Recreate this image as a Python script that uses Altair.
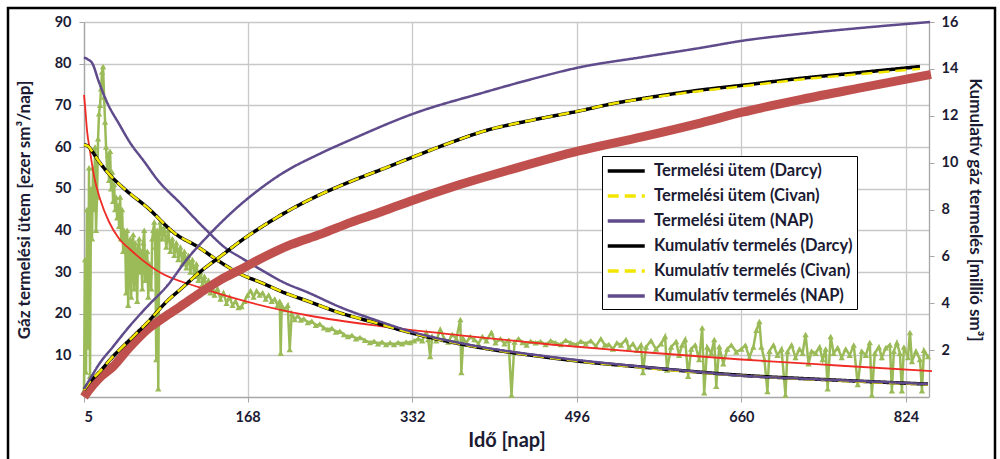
import altair as alt
import pandas as pd

# ---- model curves: production rate [thousand sm3/day] ----
rate_day = [5, 9, 13, 20, 30, 45, 68, 97, 118, 140, 161, 181, 205, 228, 260, 294,
            334, 394, 461, 498, 560, 661, 750, 846]
rate_darcy = [60.5, 60.2, 59.0, 56.5, 53.5, 50.0, 45.5, 39.0, 36.1, 32.5, 29.5, 27.5,
              25.0, 23.0, 20.2, 17.9, 15.2, 12.1, 9.7, 8.6, 7.2, 5.2, 4.1, 3.1]
rate_civan = [60.5, 60.2, 59.0, 56.5, 53.5, 50.0, 45.5, 39.0, 36.1, 32.5, 29.5, 27.5,
              25.0, 23.0, 20.2, 17.9, 15.2, 12.1, 9.7, 8.6, 7.1, 5.1, 4.0, 3.0]

nap_rate_day = [5, 9, 13, 20, 28, 40, 51, 65, 78, 101, 125, 148, 161, 181, 204, 228,
                261, 294, 334, 394, 461, 530, 600, 661, 730, 800, 846]
nap_rate = [81.5, 81.0, 80.2, 75.5, 70.7, 65.5, 61.0, 56.5, 52.2, 46.5, 40.5, 35.4,
            33.5, 30.6, 27.5, 25.1, 21.5, 18.6, 15.5, 12.3, 9.9, 8.0, 6.4, 5.1, 4.3, 3.6, 3.1]

# fitted decline of the measured rate
fit_day = [5, 6, 8, 11, 15, 21, 30, 40, 51, 80, 120, 170, 230, 300, 380, 470, 560, 660, 760, 850]
fit_rate = [72.5, 70.0, 64.0, 59.0, 53.0, 47.5, 42.0, 38.0, 35.4, 30.0, 26.3, 22.7,
            19.5, 17.0, 14.8, 12.6, 10.8, 9.0, 7.5, 6.2]

# ---- cumulative production [million sm3] ----
cum_day = [5, 10, 20, 34, 54, 68, 88, 101, 121, 141, 161, 181, 211, 241, 271, 304, 334,
           370, 404, 450, 498, 530, 571, 620, 661, 720, 780, 838]
cum_darcy = [0.3, 0.6, 1.05, 1.73, 2.58, 3.17, 4.1, 4.59, 5.35, 6.0, 6.65, 7.23, 8.0,
             8.65, 9.2, 9.75, 10.26, 10.85, 11.35, 11.8, 12.2, 12.5, 12.8, 13.1, 13.3,
             13.6, 13.85, 14.1]
cum_civan = [0.3, 0.6, 1.05, 1.73, 2.58, 3.17, 4.1, 4.59, 5.35, 6.0, 6.65, 7.23, 8.0,
             8.65, 9.2, 9.75, 10.26, 10.85, 11.35, 11.8, 12.2, 12.5, 12.78, 13.06, 13.25,
             13.55, 13.78, 14.0]

nap_cum_day = [5, 10, 20, 34, 50, 68, 88, 108, 128, 158, 181, 201, 241, 271, 334, 404,
               450, 498, 561, 620, 661, 720, 780, 848]
nap_cum = [0.35, 0.7, 1.4, 2.15, 3.0, 3.86, 4.75, 5.9, 6.85, 8.1, 8.9, 9.5, 10.4, 10.98,
           12.1, 13.0, 13.55, 14.06, 14.5, 14.9, 15.2, 15.5, 15.75, 16.0]

meas_cum_day = [5, 10, 20, 34, 50, 68, 85, 101, 121, 141, 161, 181, 211, 241, 271, 291,
                330, 375, 430, 498, 561, 620, 661, 720, 780, 849]
meas_cum = [0.0, 0.3, 0.8, 1.3, 2.1, 2.88, 3.4, 3.86, 4.45, 5.0, 5.44, 5.9, 6.5, 6.95,
            7.45, 7.75, 8.35, 9.0, 9.7, 10.5, 11.1, 11.7, 12.15, 12.7, 13.2, 13.76]

# ---- measured daily gas rate (day, rate) ----
measured = [
    (5, 1.5), (6, 33), (7, 6), (8, 45), (9, 12), (10, 55), (11, 5), (12, 50), (13, 38),
    (14, 55), (15, 45), (16, 60), (17, 40), (18, 48), (19, 62), (20, 68), (21, 70),
    (22, 74), (23, 78), (24, 79.3), (25, 72), (26, 66), (27, 60), (28, 55), (29, 58),
    (30, 52), (31, 59), (32, 50), (33, 54), (34, 47), (35, 51), (36, 45), (37, 48),
    (38, 43), (39, 46), (40, 41), (41, 48), (42, 38), (43, 45), (44, 35), (45, 40),
    (46, 38), (47, 25), (48, 40), (49, 22), (50, 36), (51, 38), (52, 24), (53, 35),
    (54, 39), (55, 26), (56, 37), (57, 33), (58, 23), (59, 36), (60, 38), (61, 30),
    (62, 35), (63, 26), (64, 37), (65, 40), (66, 28), (67, 33), (68, 35), (69, 24),
    (70, 32), (71, 30), (72, 26), (73, 38), (74, 40), (75, 42), (76, 36), (77, 9),
    (78, 40), (79, 2), (80, 38), (81, 42), (83, 38), (85, 41), (87, 36), (89, 40),
    (91, 35), (93, 38), (95, 34), (97, 37), (99, 33), (101, 36), (103, 32), (105, 35),
    (107, 31), (109, 34), (111, 30), (113, 33), (115, 29), (117, 32), (119, 28),
    (121, 30), (123, 27), (125, 29), (127, 26), (129, 28), (131, 25), (133, 27),
    (135, 24.5), (138, 26), (141, 23.5), (144, 25), (147, 22.5), (150, 24), (153, 22),
    (156, 23), (159, 21.5), (162, 21.7), (165, 23), (168, 24.5), (171, 25.5), (174, 24),
    (177, 25.5), (180, 24.5), (183, 25), (186, 23.5), (189, 24.5), (192, 23), (195, 23.5),
    (198, 22), (200, 23), (201, 10.5), (202, 22), (205, 21), (208, 22), (210, 11.4),
    (212, 20), (215, 18.6), (218, 19.5), (221, 18.5), (224, 18.8), (228, 17.9),
    (232, 18.2), (236, 17.2), (240, 17.5), (244, 16.6), (248, 16.2), (252, 16.5),
    (256, 15.6), (260, 15.8), (264, 15), (268, 14.5), (272, 14.8), (276, 14), (280, 14.3),
    (285, 13.6), (290, 13.1), (294, 13.4), (298, 12.8), (302, 13.2), (306, 12.6), (310, 13),
    (314, 12.6), (318, 13.1), (322, 12.8), (326, 13.2), (330, 13.1), (334, 13.5),
    (338, 14), (342, 13.5), (346, 15.5), (348, 13.8), (350, 9.7), (352, 14.5), (356, 13.5),
    (360, 16.2), (364, 14), (368, 13.2), (372, 15), (376, 14), (380, 18.6), (381, 5.9),
    (383, 14), (386, 13), (390, 14.5), (394, 13.8), (398, 12.8), (402, 14.5), (406, 13.5),
    (411, 15.5), (415, 13), (420, 14), (424, 12.8), (428, 13.6), (431, 0.5), (434, 13.2),
    (438, 14), (442, 13.1), (446, 12.5), (450, 13.4), (455, 13), (460, 13.3), (465, 12.6),
    (470, 13.5), (475, 13), (480, 12.6), (485, 13.6), (490, 13), (496, 12.6), (500, 13.4),
    (505, 12.8), (510, 13.5), (515, 12.2), (520, 14), (524, 12.5), (528, 12.6), (532, 11.5),
    (536, 13), (540, 12.5), (545, 13.8), (548, 11.8), (552, 12.8), (556, 11.2), (560, 12.5),
    (562, 5.9), (565, 12), (570, 13.5), (575, 11.5), (580, 12.8), (584, 14.5), (586, 6.5),
    (590, 12), (595, 13.3), (598, 10), (601, 12.5), (604, 13.8), (607, 5), (610, 11.5),
    (614, 12.5), (618, 9), (621, 16.6), (623, 1), (626, 12), (630, 10.5), (633, 13.8),
    (635, 2.6), (638, 12.1), (642, 8), (646, 11.5), (650, 12.5), (655, 10.8), (660, 11.5),
    (664, 12.4), (668, 9.5), (672, 12), (675, 16), (678, 18.1), (680, 12), (683, 9),
    (686, 1.3), (688, 11), (692, 12.5), (696, 10), (700, 11.5), (704, 0.5), (706, 10.9),
    (710, 12.5), (714, 9.5), (718, 11.5), (721, 10.5), (724, 15), (727, 8), (730, 11),
    (734, 10.5), (738, 12), (741, 9), (744, 11.5), (746, 2), (749, 14.5), (752, 10.5),
    (756, 11.8), (760, 9.5), (764, 11.5), (768, 10), (772, 12.5), (776, 3), (780, 11),
    (784, 10), (788, 13.1), (790, 0.5), (793, 10.5), (797, 12), (800, 9.5), (804, 11.8),
    (808, 12.5), (810, 1.5), (812, 11), (815, 13), (818, 10.5), (820, 1.5), (822, 12),
    (826, 9.5), (828, 15.5), (830, 8.5), (834, 11), (838, 9), (840, 1.5), (842, 11.2),
    (846, 9.7),
]

S1 = "Termelési ütem (Darcy)"
S2 = "Termelési ütem (Civan)"
S3 = "Termelési ütem (NAP)"
S4 = "Kumulatív termelés (Darcy)"
S5 = "Kumulatív termelés (Civan)"
S6 = "Kumulatív termelés (NAP)"
SERIES = [S1, S2, S3, S4, S5, S6]

BLACK = "#000000"
YELLOW = "#F2E600"
PURPLE = "#5F4B8B"
GREEN = "#9BBB59"
RED = "#EE2B24"
DARKRED = "#C0504D"
TEXT = "#1b1b33"
FONT = "Lato"


def frame(days, values, series):
    return pd.DataFrame({"day": days, "value": values, "series": series})


rate_darcy_df = frame(rate_day, rate_darcy, S1)
rate_civan_df = frame(rate_day, rate_civan, S2)
rate_nap_df = frame(nap_rate_day, nap_rate, S3)
cum_darcy_df = frame(cum_day, cum_darcy, S4)
cum_civan_df = frame(cum_day, cum_civan, S5)
cum_nap_df = frame(nap_cum_day, nap_cum, S6)
fit_df = pd.DataFrame({"day": fit_day, "value": fit_rate})
meas_cum_df = pd.DataFrame({"day": meas_cum_day, "value": meas_cum})
measured_df = pd.DataFrame(measured, columns=["day", "value"])

x_enc = alt.X(
    "day:Q",
    scale=alt.Scale(domain=[5, 847], nice=False, zero=False),
    axis=alt.Axis(
        values=[5, 168, 332, 496, 660, 824],
        title="Idő [nap]",
        grid=True,
        gridColor="#C8C8C8",
        gridWidth=1.3,
        domainColor="#A6A6A6",
        domainWidth=1.3,
        tickColor="#A6A6A6",
        tickSize=5,
        labelPadding=8,
        labelFont=FONT,
        labelFontSize=14.5,
        labelFontWeight="bold",
        labelColor=TEXT,
        titleFont=FONT,
        titleFontSize=20,
        titleFontWeight="bold",
        titleColor=TEXT,
        titlePadding=7,
    ),
)

y_left = alt.Y(
    "value:Q",
    scale=alt.Scale(domain=[0, 90], nice=False),
    axis=alt.Axis(
        values=[10, 20, 30, 40, 50, 60, 70, 80, 90],
        title="Gáz termelési ütem [ezer sm³/nap]",
        grid=True,
        gridColor="#C8C8C8",
        gridWidth=1.3,
        domainColor="#A6A6A6",
        domainWidth=1.3,
        tickColor="#A6A6A6",
        tickSize=5,
        labelPadding=8,
        labelFont=FONT,
        labelFontSize=14.5,
        labelFontWeight="bold",
        labelColor=TEXT,
        titleFont=FONT,
        titleFontSize=17,
        titleFontWeight="bold",
        titleColor=TEXT,
        titlePadding=21,
    ),
)

y_right = alt.Y(
    "value:Q",
    scale=alt.Scale(domain=[0, 16], nice=False),
    axis=alt.Axis(
        orient="right",
        values=[2, 4, 6, 8, 10, 12, 14, 16],
        title="Kumulatív gáz termelés [millió sm³]",
        grid=False,
        domainColor="#A6A6A6",
        domainWidth=1.3,
        tickColor="#A6A6A6",
        tickSize=5,
        labelPadding=7,
        labelFont=FONT,
        labelFontSize=14.5,
        labelFontWeight="bold",
        labelColor=TEXT,
        titleFont=FONT,
        titleFontSize=17,
        titleFontWeight="bold",
        titleColor=TEXT,
        titlePadding=8,
    ),
)

# legend keys: a 37 px stroke drawn from a custom path
legend = alt.Legend(
    title=None,
    orient="none",
    legendX=518,
    legendY=134,
    direction="vertical",
    fillColor="white",
    strokeColor="black",
    padding=4,
    symbolType="M-1,0H3",
    symbolSize=342,
    symbolStrokeWidth=3.5,
    labelFont=FONT,
    labelFontSize=16.5,
    labelFontWeight="bold",
    labelColor=TEXT,
    labelOffset=26,
    labelLimit=300,
    rowPadding=5,
)

color_enc = alt.Color(
    "series:N",
    scale=alt.Scale(domain=SERIES, range=[BLACK, YELLOW, PURPLE, BLACK, YELLOW, PURPLE]),
    legend=legend,
)
dash_enc = alt.StrokeDash(
    "series:N",
    scale=alt.Scale(domain=SERIES, range=[[1, 0], [11, 6], [1, 0], [1, 0], [11, 6], [1, 0]]),
    legend=legend,
)


def model_line(df, y_enc, width):
    return (
        alt.Chart(df)
        .mark_line(strokeWidth=width, strokeCap="butt", interpolate="monotone")
        .encode(x=x_enc, y=y_enc, color=color_enc, strokeDash=dash_enc)
    )


# outer frame of the figure
frame_box = (
    alt.Chart(pd.DataFrame({"k": [0]}))
    .mark_rect(filled=False, color="black", strokeWidth=2.5)
    .encode(x=alt.value(-76), x2=alt.value(911), y=alt.value(-14), y2=alt.value(470))
)

measured_layer = (
    alt.Chart(measured_df)
    .mark_line(
        color=GREEN,
        strokeWidth=2.5,
        point=alt.OverlayMarkDef(shape="triangle-up", size=40, filled=True, color=GREEN),
    )
    .encode(x=x_enc, y=y_left)
)

fit_layer = (
    alt.Chart(fit_df)
    .mark_line(color=RED, strokeWidth=1.8, interpolate="monotone")
    .encode(x=x_enc, y=y_left)
)

meas_cum_layer = (
    alt.Chart(meas_cum_df)
    .mark_line(color=DARKRED, strokeWidth=9, interpolate="monotone")
    .encode(x=x_enc, y=y_right)
)

left = alt.layer(
    frame_box,
    measured_layer,
    fit_layer,
    model_line(rate_darcy_df, y_left, 3.5),
    model_line(rate_civan_df, y_left, 2.5),
    model_line(rate_nap_df, y_left, 2.5),
)

right = alt.layer(
    meas_cum_layer,
    model_line(cum_darcy_df, y_right, 3.5),
    model_line(cum_civan_df, y_right, 2.5),
    model_line(cum_nap_df, y_right, 2.5),
)

chart = (
    alt.layer(left, right)
    .resolve_scale(y="independent")
    .properties(
        width=845,
        height=375,
        autosize=alt.AutoSizeParams(type="none"),
        padding={"left": 84, "top": 22, "right": 71, "bottom": 62},
        background="white",
    )
    .configure_view(stroke="transparent")
)

chart.save("out.html", embed_options={"renderer": "svg", "actions": False})
